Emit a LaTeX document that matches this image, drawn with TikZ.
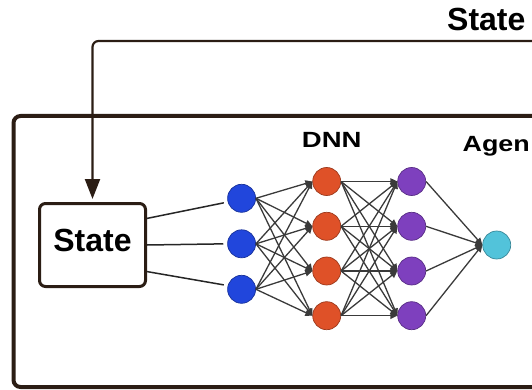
\documentclass[tikz,border=0pt]{standalone}
\usepackage{fontspec}
\setmainfont{Liberation Sans}
\usetikzlibrary{arrows.meta}
\definecolor{framecol}{HTML}{2B1D14}
\definecolor{bluenode}{HTML}{2146DC}
\definecolor{orangenode}{HTML}{DF5128}
\definecolor{purplenode}{HTML}{7E40BE}
\definecolor{cyannode}{HTML}{52C3DA}
\definecolor{edgecol}{HTML}{3A3A3A}
\tikzset{
  neuron/.style={circle, minimum size=28pt, inner sep=0pt, line width=0.7pt},
  bluen/.style={neuron, fill=bluenode, draw=bluenode!70!black},
  orangen/.style={neuron, fill=orangenode, draw=orangenode!70!black},
  purplen/.style={neuron, fill=purplenode, draw=purplenode!70!black},
  cyann/.style={neuron, fill=cyannode, draw=cyannode!70!black},
  netedge/.style={draw=edgecol, line width=1.3pt, -{Triangle[length=7pt,width=6.5pt]}},
  inedge/.style={draw=black!85, line width=1.5pt, shorten >=4pt},
  statebox/.style={draw=framecol, line width=3pt, rounded corners=6pt, minimum width=106pt, minimum height=83pt, inner sep=0pt, text depth=10pt},
  bigtext/.style={font=\bfseries\fontsize{32}{37}\selectfont},
  midtext/.style={font=\bfseries\fontsize{22}{26}\selectfont},
}
\begin{document}
\begin{tikzpicture}[x=1pt,y=-1pt]
\useasboundingbox (0,0) rectangle (532,390);
\clip (0,0) rectangle (532,390);

% outer frame
\draw[framecol, line width=4pt, rounded corners=7pt] (545,387) -- (13.5,387) -- (13.5,116) -- (545,116);

% state box
\node[statebox, bigtext] (state) at (92.5,245) {State};

% feedback line
\coordinate (fbstart) at (545,41);
\draw[framecol, line width=2.2pt, rounded corners=6pt, -{Triangle[length=20pt,width=15pt]}, shorten >=3pt]
  (fbstart) -- (state.north |- fbstart) -- (state.north);
\node[bigtext, anchor=base west, inner sep=0pt] (toplabel) at (447,31) {State};

% labels
\node[midtext, anchor=base, inner sep=0pt] (dnnlabel) at (331.7,147.3) {\scalebox{1.25}[1]{DNN}};
\node[midtext, anchor=base west, inner sep=0pt] (agentlabel) at (462.5,151.7) {\scalebox{1.22}[1]{Agen}};

% neurons
\node[bluen] (b1) at (241.6,198.3) {};
\node[bluen] (b2) at (241.6,243.8) {};
\node[bluen] (b3) at (241.6,289.3) {};
\foreach \i/\y in {1/181.5,2/226.3,3/271,4/315.7}{
  \node[orangen] (o\i) at (326.7,\y) {};
  \node[purplen] (p\i) at (411.7,\y) {};
}
\node[cyann] (c1) at (496.7,245) {};

% input edges
\draw[inedge] (state.26) -- (b1.195);
\draw[inedge] (state.east) -- (b2.west);
\draw[inedge] (state.-26) -- (b3.165);

% network edges
\foreach \i in {1,2,3}{
  \foreach \j in {1,2,3,4}{
    \draw[netedge] (b\i.east) -- (o\j.west);
  }
}
\foreach \i in {1,2,3,4}{
  \foreach \j in {1,2,3,4}{
    \draw[netedge] (o\i.east) -- (p\j.west);
  }
}
\foreach \i in {1,2,3,4}{
  \draw[netedge] (p\i.east) -- (c1.west);
}
\end{tikzpicture}
\end{document}
